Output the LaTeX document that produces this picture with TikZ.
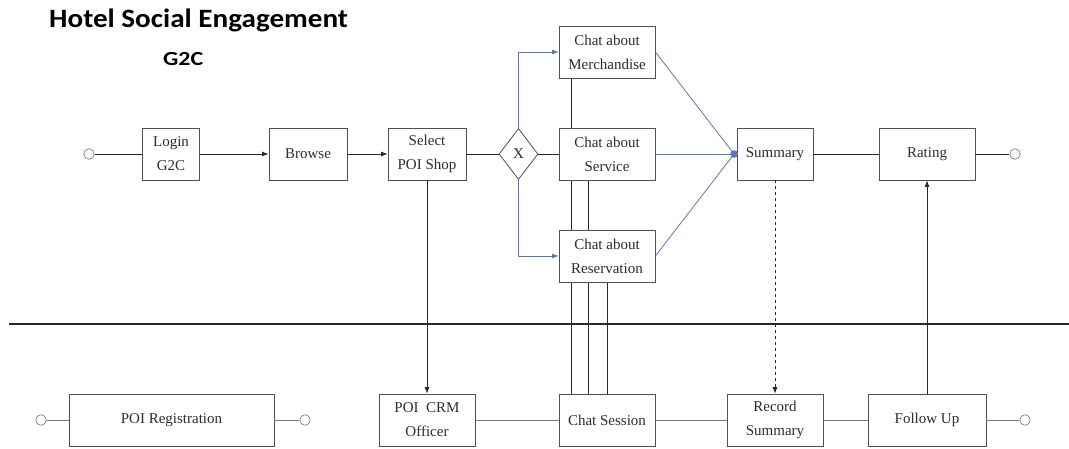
\documentclass[tikz,border=0pt]{standalone}
\usepackage{fontspec}
\setmainfont{Liberation Serif}
\newfontfamily\boxserif{Liberation Serif}
\newfontfamily\headfont{Carlito}
\usetikzlibrary{shapes.geometric,arrows.meta,backgrounds}

\definecolor{boxline}{RGB}{80,80,80}
\definecolor{wire}{RGB}{40,40,40}
\definecolor{lowwire}{RGB}{120,120,120}
\definecolor{flowblue}{RGB}{88,120,184}
\definecolor{termc}{RGB}{140,140,140}
\definecolor{textc}{RGB}{45,45,45}

\tikzset{
  stepbox/.style={draw=boxline, fill=white, line width=0.8pt, minimum height=52pt,
    inner sep=2pt, align=center, text=textc, font=\boxserif\fontsize{15}{24}\selectfont},
  gateway/.style={diamond, draw=boxline, fill=white, line width=0.8pt, inner sep=0pt,
    minimum width=39pt, minimum height=51pt, text=textc, font=\boxserif\fontsize{15}{16}\selectfont},
  term/.style={circle, draw=termc, fill=white, line width=0.8pt, minimum size=10.5pt, inner sep=0pt},
  conn/.style={draw=wire, line width=0.8pt},
  lowconn/.style={draw=lowwire, line width=0.8pt},
  arr/.style={conn, -{Latex[length=6.5pt,width=5pt]}},
  bluearr/.style={draw=flowblue, line width=0.8pt, -{Latex[length=6.5pt,width=5pt]}},
  blueline/.style={draw=flowblue, line width=0.8pt},
}

\begin{document}
\begin{tikzpicture}[x=1pt, y=-1pt]
\useasboundingbox (0,0) rectangle (1069,449);

% heading
\node[anchor=base west, inner sep=0pt, text=black] (title) at (49,28)
  {\scalebox{1.1}[1]{\headfont\bfseries\fontsize{26.5}{30}\selectfont Hotel Social Engagement}};
\node[anchor=base west, inner sep=0pt, text=black] (sub) at (163,66)
  {\scalebox{1.2}[1]{\headfont\bfseries\fontsize{20}{24}\selectfont G2C}};

% customer lane
\node[term] (cstart) at (89,154) {};
\node[stepbox, minimum width=57pt] (login) at (171,154) {Login\\G2C};
\node[stepbox, minimum width=78pt] (browse) at (308,154) {Browse};
\node[stepbox, minimum width=78pt] (select) at (427,154) {Select\\POI Shop};
\node[gateway] (gate) at (518.5,154) {X};
\node[stepbox, minimum width=96pt] (merch) at (607,52) {Chat about\\Merchandise};
\node[stepbox, minimum width=96pt] (serv) at (607,154) {Chat about\\Service};
\node[stepbox, minimum width=96pt] (resv) at (607,256) {Chat about\\Reservation};
\node[stepbox, minimum width=76pt] (summ) at (775,154) {Summary};
\node[stepbox, minimum width=96pt] (rate) at (927,154) {Rating};
\node[term] (cend) at (1015,154) {};

% hotel lane
\node[term] (hstart) at (41,420) {};
\node[stepbox, minimum width=205pt] (reg) at (171.5,420) {POI Registration};
\node[term] (hregend) at (305,420) {};
\node[stepbox, minimum width=96pt] (crm) at (427,420) {POI\ \ CRM\\Officer};
\node[stepbox, minimum width=96pt] (chat) at (607,420) {Chat Session};
\node[stepbox, minimum width=96pt] (rec) at (775,420) {Record\\Summary};
\node[stepbox, minimum width=118pt] (follow) at (927,420) {Follow Up};
\node[term] (hend) at (1025,420) {};

\coordinate (laneL) at (9,324);
\coordinate (laneR) at (1069,324);
\coordinate (merge) at ([xshift=-2.5pt]summ.west);

\begin{pgfonlayer}{background}
  % lane divider
  \draw[draw=wire, line width=1.3pt] (laneL) -- (laneR);
  % chat topics all feed the chat session
  \draw[conn] ([xshift=-36pt]merch.south) -- ([xshift=-36pt]chat.north);
  \draw[conn] ([xshift=-19pt]serv.south) -- ([xshift=-19pt]chat.north);
  \draw[conn] (resv.south) -- (chat.north);
\end{pgfonlayer}

% customer flow
\draw[conn] (cstart) -- (login);
\draw[arr] (login) -- (browse);
\draw[arr] (browse) -- (select);
\draw[conn] (select) -- (gate);
\draw[conn] (gate) -- (serv);
\draw[bluearr] (gate.north) |- (merch.west);
\draw[bluearr] (gate.south) |- (resv.west);
\draw[blueline] (merch.east) -- (merge);
\draw[blueline] (serv.east) -- (merge);
\draw[blueline] (resv.east) -- (merge);
\fill[flowblue] (merge) circle (3.8pt);
\draw[conn] (summ) -- (rate);
\draw[conn] (rate) -- (cend);

% cross-lane links
\draw[arr] (select.south) -- (crm.north);
\draw[conn, dashed, -{Latex[length=6.5pt,width=5pt]}] (summ.south) -- (rec.north);
\draw[arr] (follow.north) -- (rate.south);

% hotel flow
\draw[lowconn] (hstart) -- (reg);
\draw[lowconn] (reg) -- (hregend);
\draw[lowconn] (crm) -- (chat);
\draw[lowconn] (chat) -- (rec);
\draw[lowconn] (rec) -- (follow);
\draw[lowconn] (follow) -- (hend);
\end{tikzpicture}
\end{document}
